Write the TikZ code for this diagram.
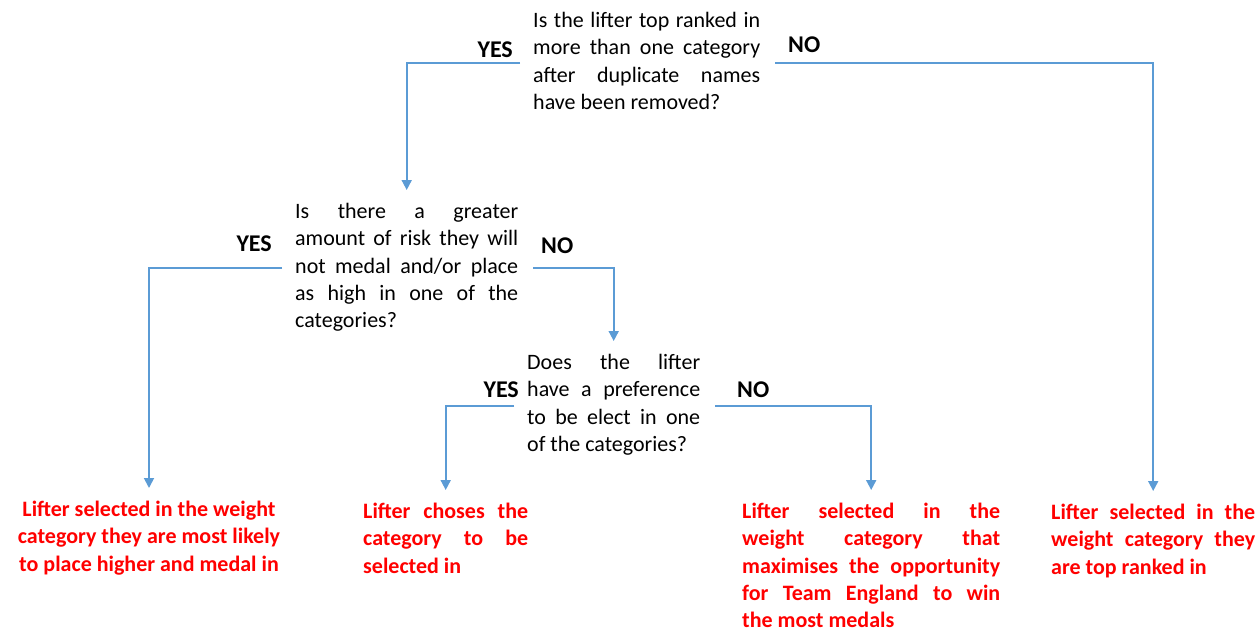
\documentclass[tikz,border=0pt]{standalone}
\usepackage{fontspec}
\setmainfont{Carlito}
\usetikzlibrary{positioning,arrows.meta}
\definecolor{lineblue}{HTML}{5B9BD5}

\begin{document}
\begin{tikzpicture}[x=1pt,y=-1pt,
  txt/.style={anchor=north west,inner sep=0pt,align=justify,font=\fontsize{22}{27.3}\selectfont},
  leaf/.style={txt,text=red,font=\fontsize{22}{27.3}\selectfont\bfseries},
  lbl/.style={inner sep=0pt,font=\fontsize{24}{28}\selectfont\bfseries},
  ar/.style={-{Triangle[width=10pt,length=10pt]},line width=1.8pt,lineblue,shorten >=13pt}]
\useasboundingbox (0,0) rectangle (1260,627);
% questions
\node[txt,text width=227pt] (q1) at (533,12) {Is the lifter top ranked in\linebreak more than one category\linebreak after duplicate names\linebreak have been removed?};
\node[txt,text width=223pt] (q2) at (295,203) {Is there a greater\linebreak amount of risk they will\linebreak not medal and/or place\linebreak as high in one of the\linebreak categories?};
\node[txt,text width=173pt] (q3) at (527,354) {Does the lifter\linebreak have a preference\linebreak to be elect in one\linebreak of the categories?};
% outcomes
\node[leaf,anchor=north,align=center] (r1) at (149,501) {Lifter selected in the weight\\ category they are most likely\\ to place higher and medal in};
\node[leaf,text width=165pt] (r2) at (363,503) {Lifter choses the\linebreak category to be\linebreak selected in};
\node[leaf,text width=258pt] (r3) at (742,503) {Lifter selected in the\linebreak weight category that\linebreak maximises the opportunity\linebreak for Team England to win\linebreak the most medals};
\node[leaf,text width=204pt] (r4) at (1051,504) {Lifter selected in the\linebreak weight category they\linebreak are top ranked in};
% yes / no
\node[lbl,anchor=base east] (y1) at (513,57) {YES};
\node[lbl,anchor=base west] (n1) at (788,52) {NO};
\node[lbl,anchor=base east] (y2) at (272,251) {YES};
\node[lbl,anchor=base west] (n2) at (541,253) {NO};
\node[lbl,anchor=base east] (y3) at (519,397) {YES};
\node[lbl,anchor=base west] (n3) at (737,397) {NO};
\coordinate (q1yes) at (520,63);
\coordinate (q1no) at (775,63);
\coordinate (q2yes) at (282,268);
\coordinate (q2no) at (533,268);
\coordinate (q3yes) at (514,406);
\coordinate (q3no) at (715,406);
\draw[ar] (q1yes) -| (q2.north);
\draw[ar] (q1no) -| (r4.north);
\draw[ar] (q2yes) -| (r1.north);
\draw[ar] (q2no) -| (q3.north);
\draw[ar] (q3yes) -| (r2.north);
\draw[ar] (q3no) -| (r3.north);
\end{tikzpicture}
\end{document}
